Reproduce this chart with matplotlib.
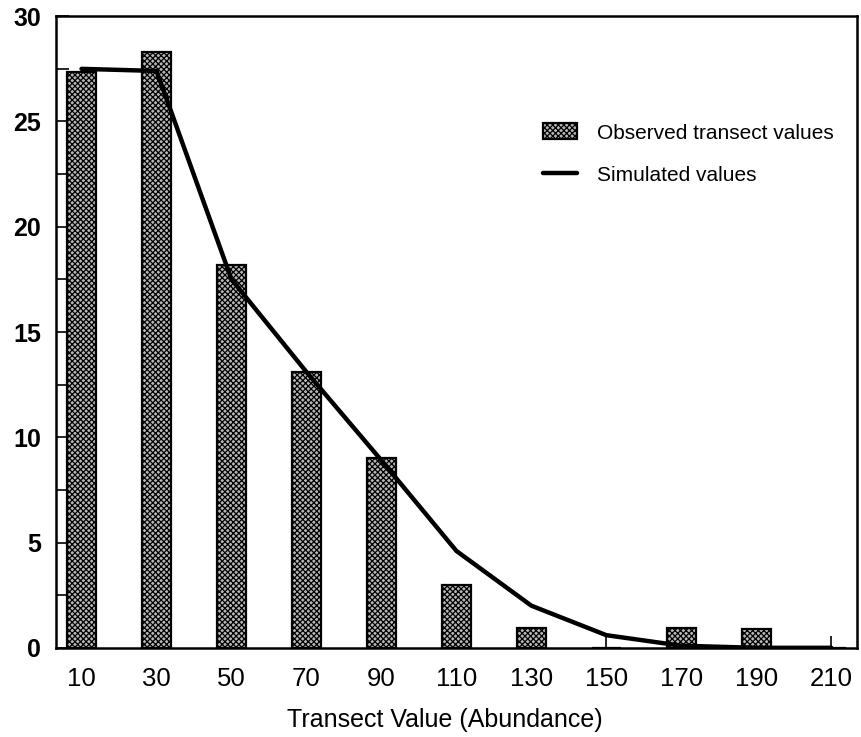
import numpy as np
import matplotlib.pyplot as plt
from matplotlib.ticker import MultipleLocator

plt.rcParams['hatch.linewidth'] = 0.9
plt.rcParams['hatch.color'] = 'black'

categories = ['10', '30', '50', '70', '90', '110', '130', '150', '170', '190', '210']
observed = [27.35, 28.3, 18.2, 13.1, 9.0, 3.0, 0.95, 0.0, 0.95, 0.9, 0.0]
simulated = [27.5, 27.4, 17.5, 13.1, 8.9, 4.6, 2.0, 0.6, 0.1, 0.0, 0.0]

x = np.arange(len(categories))
fam = ['Liberation Sans', 'DejaVu Sans']

fig = plt.figure(figsize=(8.62, 7.37), dpi=100)
ax = fig.add_axes([0.065, 0.121, 0.929, 0.857])

bars = ax.bar(x, observed, width=0.38, facecolor='#b8b8b8', edgecolor='black',
              linewidth=1.6, hatch='xxxxxx', label='Observed transect values', zorder=2)
line, = ax.plot(x, simulated, color='black', linewidth=3.2, solid_capstyle='round',
                label='Simulated values', zorder=3)

ax.set_xlim(-0.34, 10.34)
ax.set_ylim(0, 30)
ax.set_xticks(x)
ax.set_xticklabels(categories, family=fam, fontsize=18.5)
ax.yaxis.set_major_locator(MultipleLocator(5))
ax.yaxis.set_minor_locator(MultipleLocator(2.5))
for lab in ax.get_yticklabels():
    lab.set_family(fam)
    lab.set_fontsize(18)
    lab.set_fontweight('bold')

ax.tick_params(axis='y', which='both', direction='in', length=9, width=1.2, pad=11)
ax.tick_params(axis='x', direction='in', length=9, width=1.2, pad=14)
for s in ax.spines.values():
    s.set_linewidth(1.8)

ax.set_xlabel('Transect Value (Abundance)', family=fam, fontsize=18, labelpad=10)
ax.xaxis.set_label_coords(0.485, -0.095)

ax.legend([bars, line], ['Observed transect values', 'Simulated values'],
          loc='upper left', bbox_to_anchor=(0.585, 0.86), frameon=False,
          prop={'family': fam, 'size': 15}, handlelength=1.6, handleheight=0.8,
          labelspacing=1.1, handletextpad=1.0)

fig.savefig('out.png', dpi=100)
